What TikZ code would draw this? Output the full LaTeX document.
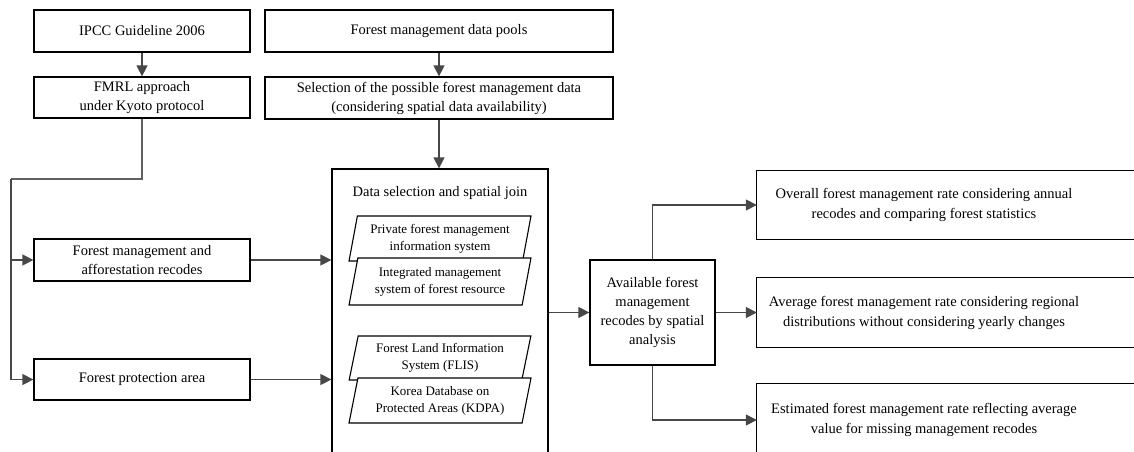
\documentclass[tikz,border=0pt]{standalone}
\usepackage{fontspec}
\setmainfont{Liberation Serif}
\usetikzlibrary{shapes.geometric, arrows.meta, positioning}

\tikzset{
  box/.style={draw=black, line width=1.3pt, align=center, inner sep=2pt,
    minimum width=216pt, minimum height=42pt, font=\fontsize{14.5}{19}\selectfont},
  para/.style={trapezium, trapezium left angle=77, trapezium right angle=103,
    trapezium stretches=true, draw=black, line width=1.1pt, fill=white, align=center,
    inner sep=1pt, minimum width=182pt, minimum height=45pt, font=\fontsize{13}{17}\selectfont},
  outbox/.style={align=center, inner sep=2pt, minimum width=334pt, minimum height=68pt,
    font=\fontsize{14.5}{20}\selectfont},
  frame/.style={draw=black, line width=1.3pt},
  arr/.style={draw=black!72, line width=1.5pt, -{Triangle[length=11pt, width=11pt]}},
  conn/.style={draw=black!62, line width=1.5pt}
}

\begin{document}
\begin{tikzpicture}[x=1pt, y=-1pt]
    \useasboundingbox (0,0) rectangle (1134,451);
    \clip (0,0) rectangle (1134,451);
    % Left column
    \node[box] (ipcc) at (142,31) {IPCC Guideline 2006};
    \node[box, minimum height=41pt] (fmrl) at (142,97.5) {FMRL approach\\under Kyoto protocol};
    \node[box] (fmar) at (142,260) {Forest management and\\afforestation recodes};
    \node[box, minimum height=41pt] (prot) at (142,379.5) {Forest protection area};
    % Data pools
    \node[box, minimum width=348pt] (pools) at (439,31) {Forest management data pools};
    \node[box, minimum width=348pt] (select) at (439,98) {Selection of the possible forest management data\\(considering spatial data availability)};
    % Spatial join
    \node[box, minimum height=301pt] (join) at (440,319.5) {};
    \node[font=\fontsize{14.5}{19}\selectfont] (jointitle) at (440,193) {Data selection and spatial join};
    \node[para] (pfmis) at (440,238.5) {Private forest management\\information system};
    \node[para, minimum height=47pt] (imsfr) at (440,281.5) {Integrated management\\system of forest resource};
    \node[para, minimum height=44pt] (flis) at (440,358) {Forest Land Information\\System (FLIS)};
    \node[para] (kdpa) at (440,400.5) {Korea Database on\\Protected Areas (KDPA)};
    % Results
    \node[box, minimum width=125pt, minimum height=105pt] (avail) at (652.5,312.5) {Available forest\\management\\recodes by spatial\\analysis};
    \node[outbox] (out1) at (924,205) {Overall forest management rate considering annual\\recodes and comparing forest statistics};
    \node[outbox, minimum height=69pt] (out2) at (924,312.5) {Average forest management rate considering regional\\distributions without considering yearly changes};
    \node[outbox, minimum height=72pt] (out3) at (924,420) {Estimated forest management rate reflecting average\\value for missing management recodes};
    \foreach \n in {out1, out2, out3} {
      \draw[frame] ([xshift=60pt]\n.north east) -- (\n.north west) -- (\n.south west) -- ([xshift=60pt]\n.south east);
    }
    % Connectors
    \coordinate (split) at (11,179);
    \draw[arr] (ipcc) -- (fmrl);
    \draw[arr] (pools) -- (select);
    \draw[arr] (select.south) -- (select.south |- join.north);
    \draw[conn] (fmrl.south) |- (split);
    \draw[arr] (split) |- (fmar.west);
    \draw[arr] (split) |- (prot.west);
    \draw[arr] (fmar.east) -- (fmar.east -| join.west);
    \draw[arr] (prot.east) -- (prot.east -| join.west);
    \draw[arr] (avail.west -| join.east) -- (avail.west);
    \draw[arr] (avail.north) |- (out1.west);
    \draw[arr] (avail.east) -- (out2.west);
    \draw[arr] (avail.south) |- (out3.west);
  \end{tikzpicture}
\end{document}
